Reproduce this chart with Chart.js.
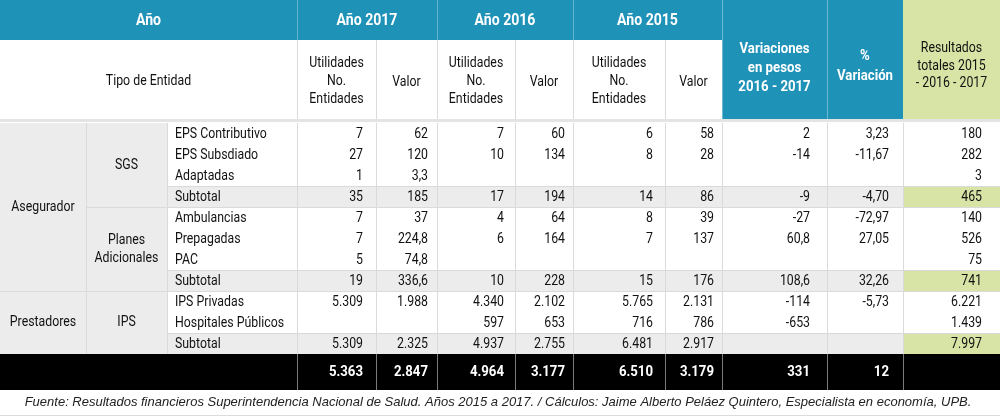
<!DOCTYPE html>
<html>
<head>
<meta charset="utf-8">
<script src="https://cdn.jsdelivr.net/npm/chart.js@4/dist/chart.umd.min.js"></script>
<style>
  html, body { margin: 0; padding: 0; background: #fff; }
  #wrap { width: 1000px; height: 418px; position: relative; }
</style>
</head>
<body>
<div id="wrap"><canvas id="tabla"></canvas></div>
<script>
// datos de la tabla
const grupos = ["Asegurador", "Prestadores"];
const subgrupos = ["SGS", "Planes\nAdicionales", "IPS"];
const entidades = ["EPS Contributivo", "EPS Subsdiado", "Adaptadas", "Subtotal",
  "Ambulancias", "Prepagadas", "PAC", "Subtotal",
  "IPS Privadas", "Hospitales Públicos", "Subtotal"];
const util2017 = ["7", "27", "1", "35", "7", "7", "5", "19", "5.309", "", "5.309"];
const valor2017 = ["62", "120", "3,3", "185", "37", "224,8", "74,8", "336,6", "1.988", "", "2.325"];
const util2016 = ["7", "10", "", "17", "4", "6", "", "10", "4.340", "597", "4.937"];
const valor2016 = ["60", "134", "", "194", "64", "164", "", "228", "2.102", "653", "2.755"];
const util2015 = ["6", "8", "", "14", "8", "7", "", "15", "5.765", "716", "6.481"];
const valor2015 = ["58", "28", "", "86", "39", "137", "", "176", "2.131", "786", "2.917"];
const variacion = ["2", "-14", "", "-9", "-27", "60,8", "", "108,6", "-114", "-653", ""];
const pctVariacion = ["3,23", "-11,67", "", "-4,70", "-72,97", "27,05", "", "32,26", "-5,73", "", ""];
const totales = ["180", "282", "3", "465", "140", "526", "75", "741", "6.221", "1.439", "7.997"];
const filaTotal = ["5.363", "2.847", "4.964", "3.177", "6.510", "3.179", "331", "12", ""];
const anios = ["Año 2017", "Año 2016", "Año 2015"];
const fuente = "Fuente: Resultados financieros Superintendencia Nacional de Salud. Años 2015 a 2017. / Cálculos: Jaime Alberto Peláez Quintero, Especialista en economía, UPB.";

// layout (no son datos)
const bordes = [0, 86, 167, 297, 376, 437, 515, 573, 665, 722, 827, 903, 1000];
const padDer = [0, 0, 0, 13, 9, 11, 8, 12, 8, 17, 14, 18];
const filaIni = 123, filaAlto = 21;
const grupoFilas = [[0, 8], [8, 11]];
const subgrupoFilas = [[0, 4], [4, 8], [8, 11]];
const subtotales = [3, 7, 10];

const AZUL = "#1f92b8", VERDE = "#d8e4a5", GRIS = "#ececec", LINEA = "#dadada";
const TINTA = "#111";
const SX = 0.88;
const FAM = "Roboto, 'Noto Sans', sans-serif";

const tablaPlugin = {
  id: "tabla",
  afterDraw(chart) {
    const ctx = chart.ctx;
    const X = v => chart.scales.x.getPixelForValue(v);
    const Y = v => chart.scales.y.getPixelForValue(v);
    const rect = (x0, x1, y0, y1, c) => {
      ctx.fillStyle = c;
      ctx.fillRect(X(x0), Y(y0), X(x1) - X(x0), Y(y1) - Y(y0));
    };
    const vline = (x, y0, y1, c) => {
      ctx.fillStyle = c;
      ctx.fillRect(Math.round(X(x)), Y(y0), 1, Y(y1) - Y(y0));
    };
    const hline = (x0, x1, y, c) => {
      ctx.fillStyle = c;
      ctx.fillRect(X(x0), Math.round(Y(y)), X(x1) - X(x0), 1);
    };
    const txt = (s, x, y, align, font, color) => {
      ctx.save();
      ctx.font = font;
      ctx.fillStyle = color;
      ctx.textBaseline = "middle";
      ctx.textAlign = align;
      ctx.translate(X(x), Y(y));
      ctx.scale(SX, 1);
      ctx.fillText(s, 0, 0);
      ctx.restore();
    };
    const lines = (arr, x, yc, lh, font, color) => {
      const y0 = yc - (arr.length - 1) * lh / 2;
      arr.forEach((s, i) => txt(s, x, y0 + i * lh, "center", font, color));
    };
    const mid = (a, b) => (bordes[a] + bordes[b]) / 2;
    const filaY = r => filaIni + r * filaAlto;
    const fin = filaY(entidades.length);

    // ---- encabezado
    rect(0, bordes[9], 0, 40, AZUL);
    rect(bordes[9], bordes[11], 0, 119, AZUL);
    rect(bordes[11], 1000, 0, 119, VERDE);
    [3, 5, 7].forEach(c => vline(bordes[c], 0, 40, "rgba(255,255,255,0.3)"));
    vline(bordes[9], 0, 119, "rgba(255,255,255,0.35)");
    vline(bordes[10], 0, 119, "rgba(255,255,255,0.35)");
    [3, 4, 5, 6, 7, 8].forEach(c => vline(bordes[c], 40, 119, LINEA));
    rect(0, 1000, 119, 122, "#e4e4e4");

    const fB16 = "bold 16px " + FAM, fB15 = "bold 15px " + FAM, fR14 = "14px " + FAM;
    txt("Año", mid(0, 3), 21, "center", fB16, "#fff");
    anios.forEach((a, i) => txt(a, mid(3 + 2 * i, 5 + 2 * i), 21, "center", fB16, "#fff"));
    txt("Tipo de Entidad", mid(0, 3), 81, "center", fR14, TINTA);
    for (let i = 0; i < 3; i++) {
      lines(["Utilidades", "No.", "Entidades"], mid(3 + 2 * i, 4 + 2 * i), 81, 18, fR14, TINTA);
      txt("Valor", mid(4 + 2 * i, 5 + 2 * i), 82, "center", fR14, TINTA);
    }
    lines(["Variaciones", "en pesos", "2016 - 2017"], mid(9, 10), 68, 19, fB15, "#fff");
    lines(["%", "Variación"], mid(10, 11), 66, 20, fB15, "#fff");
    lines(["Resultados", "totales 2015", "- 2016 - 2017"], mid(11, 12), 66, 17.5, fR14, TINTA);

    // ---- cuerpo
    rect(0, bordes[2], filaIni, fin, GRIS);
    subtotales.forEach(r => {
      rect(bordes[2], bordes[11], filaY(r), filaY(r + 1), GRIS);
      rect(bordes[11], 1000, filaY(r), filaY(r + 1), VERDE);
      hline(bordes[2], 1000, filaY(r), LINEA);
      if (r < entidades.length - 1) hline(bordes[2], 1000, filaY(r + 1), LINEA);
    });
    hline(bordes[1], bordes[2], filaY(4), LINEA);
    hline(0, bordes[2], filaY(8), LINEA);
    for (let c = 1; c < 12; c++) vline(bordes[c], filaIni, fin, LINEA);

    grupoFilas.forEach((g, i) =>
      txt(grupos[i], mid(0, 1), (filaY(g[0]) + filaY(g[1])) / 2, "center", fR14, TINTA));
    subgrupoFilas.forEach((g, i) =>
      lines(subgrupos[i].split("\n"), mid(1, 2), (filaY(g[0]) + filaY(g[1])) / 2, 18, fR14, TINTA));

    const cols = [util2017, valor2017, util2016, valor2016, util2015, valor2015, variacion, pctVariacion, totales];
    entidades.forEach((e, r) => {
      const yc = filaY(r) + filaAlto / 2 + 0.5;
      txt(e, bordes[2] + 8, yc, "left", fR14, TINTA);
      cols.forEach((arr, k) => {
        const c = 3 + k;
        if (arr[r]) txt(arr[r], bordes[c + 1] - padDer[c], yc, "right", fR14, TINTA);
      });
    });

    // ---- fila total
    rect(0, 1000, fin, 390, "#000");
    for (let c = 3; c < 12; c++) vline(bordes[c], fin, 390, "#7a7a7a");
    filaTotal.forEach((v, k) => {
      const c = 3 + k;
      if (v) txt(v, bordes[c + 1] - padDer[c], (fin + 390) / 2, "right", fB15, "#fff");
    });

    // ---- fuente
    hline(0, 1000, 415, "#dcdcdc");
    ctx.save();
    ctx.font = "italic 13px 'Liberation Sans', Arial, sans-serif";
    ctx.fillStyle = "#222";
    ctx.textAlign = "center";
    ctx.textBaseline = "middle";
    ctx.fillText(fuente, X(498), Y(402));
    ctx.restore();
  }
};

new Chart(document.getElementById("tabla"), {
  type: "scatter",
  data: { datasets: [] },
  options: {
    responsive: true,
    maintainAspectRatio: false,
    animation: false,
    layout: { padding: 0 },
    plugins: { legend: { display: false }, tooltip: { enabled: false } },
    scales: {
      x: { type: "linear", min: 0, max: 1000, offset: false, display: false },
      y: { type: "linear", min: 0, max: 418, reverse: true, offset: false, display: false }
    }
  },
  plugins: [tablaPlugin]
});
</script>
</body>
</html>
